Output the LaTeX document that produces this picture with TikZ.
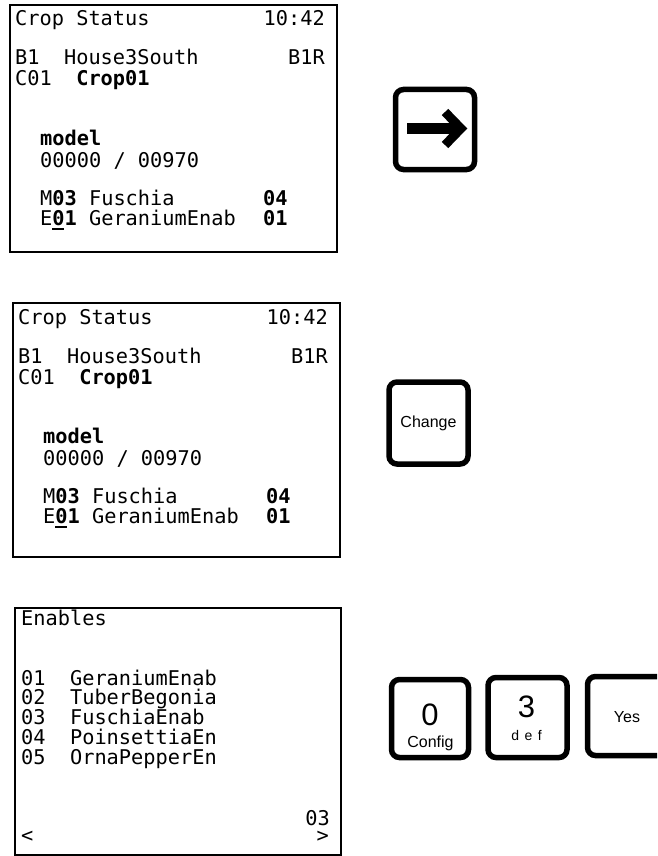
\documentclass[tikz,border=0pt]{standalone}
\usepackage{fontspec}
\usetikzlibrary{calc}
\newfontfamily\lcdfont[WordSpace={1,0,0}]{DejaVu Sans Mono}
\newfontfamily\keyfont{Liberation Sans}

\begin{document}
\begin{tikzpicture}[x=1pt, y=-1pt,
    screen/.style={draw, line width=1.8pt},
    lcd/.style={anchor=base west, inner sep=0pt, font=\lcdfont\fontsize{20.3}{20}\selectfont},
    lcdr/.style={lcd, anchor=base east},
    keybox/.style={draw, line width=5.5pt, rounded corners=8pt, minimum width=79pt, minimum height=80pt, inner sep=0pt},
    keytext/.style={inner sep=0pt, font=\keyfont\fontsize{16}{16}\selectfont},
    digit/.style={keytext, anchor=base, font=\keyfont\fontsize{31}{31}\selectfont}]
    \def\ul{\makebox[0pt][l]{\rule[-5pt]{12pt}{1.8pt}}}
    \useasboundingbox (0,0) rectangle (657,856);
    \clip (0,0) rectangle (657,856);

    % ---------- crop status screens ----------
    \foreach \s/\dx/\dy/\h in {a/10/5/247, b/13/303/254} {
        \begin{scope}[shift={(\dx,\dy)}]
            \draw[screen] (0,0) rectangle (327,\h);
            \node[lcd] (\s-title) at (5,21) {Crop Status};
            \node[lcdr] (\s-time) at (315,21) {10:42};
            \node[lcd] (\s-house) at (5,60) {B1~~House3South};
            \node[lcdr] (\s-bed) at (315,60) {B1R};
            \node[lcd] (\s-crop) at (5,81) {C01~~\textbf{Crop01}};
            \node[lcd] (\s-model) at (30,140) {\textbf{model}};
            \node[lcd] (\s-count) at (30,162) {00000~/~00970};
            \node[lcd] (\s-mrow) at (30,200) {M\textbf{03}~Fuschia};
            \node[lcd] (\s-mval) at (253,200) {\textbf{04}};
            \node[lcd] (\s-erow) at (30,220) {E\textbf{\ul0}\textbf{1}~GeraniumEnab};
            \node[lcd] (\s-eval) at (253,220) {\textbf{01}};
        \end{scope}
    }

    % ---------- enables screen ----------
    \begin{scope}[shift={(15,608)}]
        \draw[screen] (0,0) rectangle (326,247);
        \node[lcd] (en-title) at (6,17) {Enables};
        \foreach \n/\name [count=\i from 0] in {01/GeraniumEnab, 02/TuberBegonia,
                03/FuschiaEnab, 04/PoinsettiaEn, 05/OrnaPepperEn}
            \node[lcd] (en-\n) at (6,77+19.75*\i) {\n~~\name};
        \node[lcdr] (en-page) at (315,217) {03};
        \node[lcd] (en-prev) at (6,234) {<};
        \node[lcdr] (en-next) at (314,234) {>};
    \end{scope}

    % ---------- keys ----------
    \node[keybox] (keyarrow) at (435,129.5) {};
    \draw[line width=10pt] ($(keyarrow.center)+(-28,-1)$) -- ($(keyarrow.center)+(22,-1)$);
    \draw[line width=9pt] ($(keyarrow.center)+(10,-17.5)$) -- ($(keyarrow.center)+(26,-1)$)
        -- ($(keyarrow.center)+(10,15.5)$);

    \node[keybox, minimum height=82pt] (keychange) at (428.5,423) {};
    \node[keytext] (changelabel) at (keychange.center) {Change};

    \node[keybox, minimum width=77pt, minimum height=78pt] (keyzero) at (430,718.5) {};
    \node[digit] (zerodigit) at ($(keyzero.center)+(0,6.5)$) {0};
    \node[keytext, anchor=base] (zerolabel) at ($(keyzero.center)+(0.5,29)$) {Config};

    \node[keybox] (keythree) at (527.5,717.5) {};
    \node[digit] (threedigit) at ($(keythree.center)+(-1,-0.5)$) {3};
    \node[keytext, anchor=base, font=\keyfont\fontsize{14}{14}\selectfont] (threelabel)
        at ($(keythree.center)+(-1,22.5)$) {d\hspace{5.5pt}e\hspace{5.5pt}f};

    \node[keybox, minimum height=79pt] (keyyes) at (627,716) {};
    \node[keytext] (yeslabel) at ($(keyyes.center)+(0,1)$) {Yes};
\end{tikzpicture}
\end{document}
